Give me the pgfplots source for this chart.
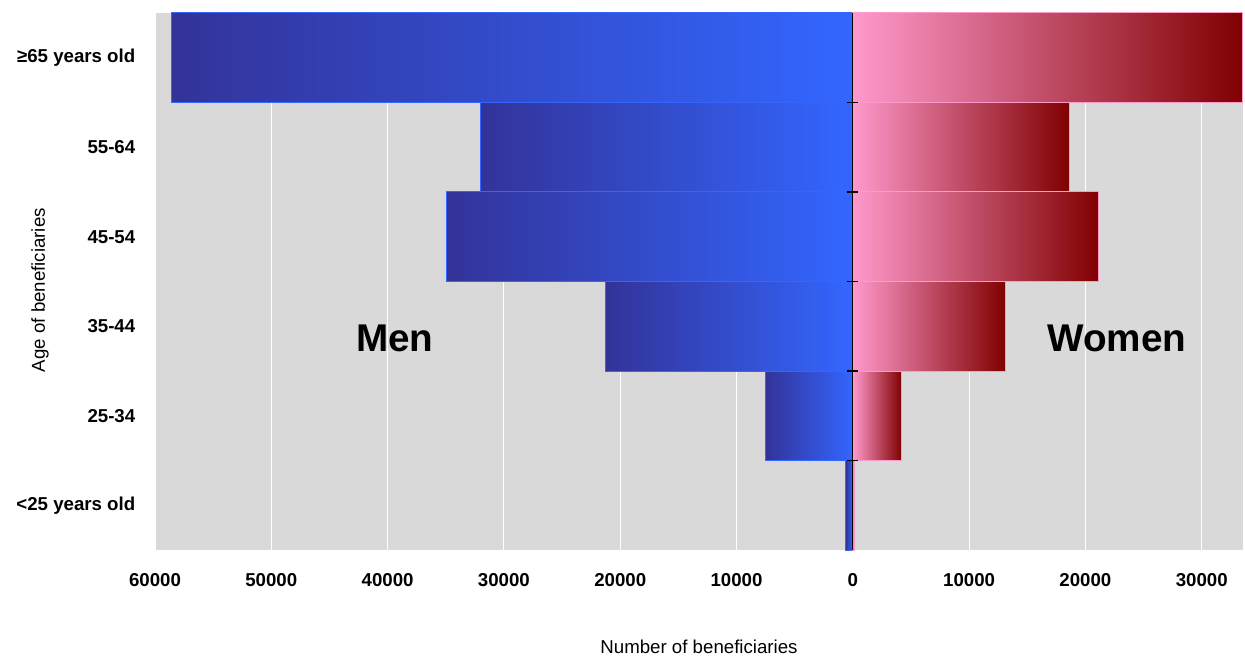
\documentclass[border=0pt]{standalone}
\usepackage{pgfplots}
\pgfplotsset{compat=1.18}
\usepackage{fontspec}
\setmainfont{Liberation Sans}
\definecolor{bg}{HTML}{D9D9D9}
\definecolor{navyc}{HTML}{333399}
\definecolor{brightblue}{HTML}{3366FF}
\definecolor{pinkc}{HTML}{FF99CC}
\definecolor{darkredc}{HTML}{800000}
\begin{document}
\begin{tikzpicture}
\begin{axis}[name=ax, scale only axis, width=816pt, height=402.75pt,
  xbar, bar width=1, bar shift=0,
  xmin=-60000, xmax=33550, ymin=-0.5, ymax=5.5,
  xtick={-60000,-50000,...,30000},
  xticklabels={60000,50000,40000,30000,20000,10000,0,10000,20000,30000},
  scaled x ticks=false,
  ytick={0,...,5},
  yticklabels={<25 years old,25-34,35-44,45-54,55-64,≥65 years old},
  tick label style={font=\fontsize{14}{16}\selectfont\bfseries},
  xticklabel style={yshift=-14pt},
  yticklabel style={xshift=-7pt},
  tick style={draw=none},
  axis background/.style={fill=bg},
  axis line style={draw=none},
  xmajorgrids, grid style={white, line width=0.8pt},
  xlabel={Number of beneficiaries}, ylabel={Age of beneficiaries},
  label style={font=\fontsize{14}{16}\selectfont},
  xlabel style={at={(axis description cs:0.5,-0.18)}, anchor=center},
  ylabel style={at={(axis description cs:-0.1057,0.484)}, anchor=center},
  men/.style={xbar, draw=brightblue, line width=0.75pt, left color=navyc, right color=brightblue},
  women/.style={xbar, draw=pinkc, line width=0.75pt, left color=pinkc, right color=darkredc},
]
% Men (negative values)
\addplot[men] coordinates {(-600,0)};
\addplot[men] coordinates {(-7550,1)};
\addplot[men] coordinates {(-21300,2)};
\addplot[men] coordinates {(-34900,3)};
\addplot[men] coordinates {(-32050,4)};
\addplot[men] coordinates {(-58550,5)};
% Women
\addplot[women] coordinates {(170,0)};
\addplot[women] coordinates {(4200,1)};
\addplot[women] coordinates {(13150,2)};
\addplot[women] coordinates {(21150,3)};
\addplot[women] coordinates {(18650,4)};
\addplot[women] coordinates {(33500,5)};
\draw[black, line width=0.8pt] (axis cs:0,-0.5) -- (axis cs:0,5.5);
\pgfplotsinvokeforeach{0.5,1.5,2.5,3.5,4.5}{
  \draw[black, line width=0.8pt] ([xshift=-4pt]axis cs:0,#1) -- ([xshift=4pt]axis cs:0,#1);
}
\node[font=\fontsize{29}{33}\selectfont\bfseries] at (axis cs:-39370,1.87) {Men};
\node[font=\fontsize{29}{33}\selectfont\bfseries] at (axis cs:22690,1.87) {Women};
\end{axis}
\pgfresetboundingbox
\path ([shift={(-116.25pt,-80.25pt)}]ax.south west) rectangle ([shift={(1.5pt,9.75pt)}]ax.north east);
\end{tikzpicture}
\end{document}
